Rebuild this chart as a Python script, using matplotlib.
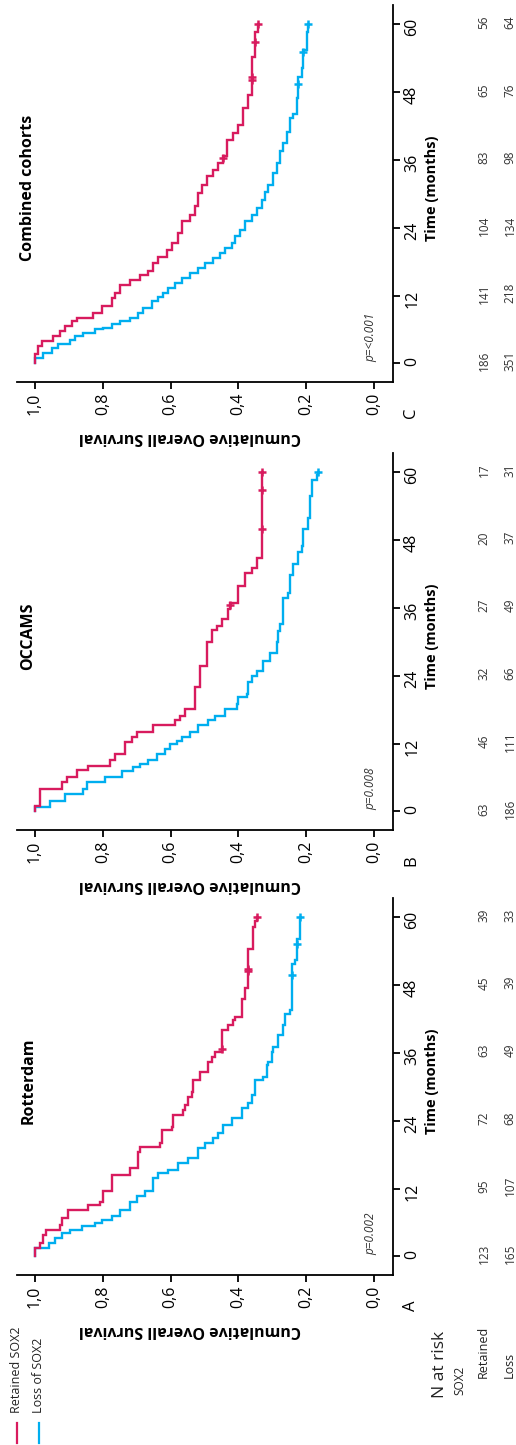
import numpy as np
import matplotlib
matplotlib.use('Agg')
import matplotlib.pyplot as plt
from matplotlib.lines import Line2D
import matplotlib.transforms as mtransforms
from matplotlib import font_manager

# pick a humanist sans that really has a bold face installed
FONT = 'DejaVu Sans'
for fam in ['Open Sans', 'Lato', 'Noto Sans', 'Liberation Sans']:
    path = font_manager.findfont(font_manager.FontProperties(family=fam, weight='bold'),
                                 fallback_to_default=False)
    if 'bold' in path.lower() or 'black' in path.lower():
        FONT = fam
        break
plt.rcParams['font.family'] = [FONT, 'DejaVu Sans']

RED = '#D81B5E'
BLUE = '#00AEEF'

# ---- data (time in months, cumulative survival) ----
panel_names = ['Rotterdam', 'OCCAMS', 'Combined cohorts']
panel_letters = ['A', 'B', 'C']
p_values = ['p=0.002', 'p=0.008', 'p=<0.001']
risk_times = [0, 12, 24, 36, 48, 60]

# Rotterdam
rot_ret_t = [0, 1.5, 2.4, 3.8, 4.7, 5.6, 6.8, 8.2, 9.1, 9.7, 11.5, 14.4, 15.6, 18.5, 19.4, 20.0,
             22.4, 22.9, 25.0, 25.9, 26.8, 28.2, 29.1, 31.2, 32.6, 34.4, 35.3, 36.2, 40.0, 40.9,
             41.8, 42.4, 45.6, 47.4, 54.4, 58.2, 59.3]
rot_ret_s = [1.0, 0.985, 0.975, 0.966, 0.926, 0.92, 0.902, 0.843, 0.808, 0.80, 0.774, 0.72,
             0.695, 0.69, 0.631, 0.626, 0.597, 0.592, 0.562, 0.557, 0.548, 0.538, 0.533, 0.513,
             0.489, 0.479, 0.469, 0.449, 0.43, 0.415, 0.41, 0.39, 0.381, 0.371, 0.356, 0.351, 0.346]
rot_ret_cens = [36.6, 50.4, 50.8, 60]
rot_loss_t = [0, 1.5, 2.4, 3.2, 4.1, 4.7, 5.3, 5.9, 6.5, 7.1, 8.2, 9.7, 10.6, 11.5, 13.8, 14.7,
              15.3, 16.5, 17.4, 19.1, 20.0, 20.9, 21.8, 23.2, 24.4, 26.2, 27.1, 28.5, 31.2, 31.8,
              33.8, 34.4, 36.2, 37.1, 39.1, 40.9, 42.9, 43.5, 51.8, 52.4, 56.2]
rot_loss_s = [1.0, 0.96, 0.94, 0.92, 0.897, 0.862, 0.823, 0.803, 0.774, 0.749, 0.72, 0.70,
              0.676, 0.651, 0.636, 0.607, 0.577, 0.548, 0.518, 0.499, 0.474, 0.459, 0.444, 0.42,
              0.39, 0.371, 0.361, 0.351, 0.326, 0.317, 0.312, 0.302, 0.297, 0.282, 0.267, 0.263,
              0.248, 0.243, 0.233, 0.228, 0.218]
rot_loss_cens = [49.7, 55.3, 60]
rot_risk_ret = [123, 95, 72, 63, 45, 39]
rot_risk_loss = [165, 107, 68, 49, 39, 33]

# OCCAMS
occ_ret_t = [0, 0.9, 4.0, 5.2, 6.1, 7.3, 8.1, 9.0, 10.2, 12.2, 13.1, 14.0, 15.2, 16.1, 16.9,
             18.1, 22.0, 25.8, 29.9, 32.0, 32.8, 34.0, 35.8, 36.9, 39.9, 42.2, 43.1, 44.9]
occ_ret_s = [1.0, 0.985, 0.921, 0.907, 0.877, 0.843, 0.779, 0.764, 0.735, 0.715, 0.70, 0.651,
             0.587, 0.572, 0.558, 0.528, 0.513, 0.494, 0.479, 0.464, 0.449, 0.43, 0.425, 0.40,
             0.381, 0.361, 0.346, 0.331]
occ_ret_cens = [36.5, 49.9, 56.8, 60]
occ_loss_t = [0, 0.8, 1.9, 3.1, 4.0, 5.2, 6.1, 7.2, 7.8, 8.4, 9.0, 10.2, 11.1, 11.9, 12.5, 13.1,
              14.0, 15.2, 16.1, 16.9, 18.1, 19.0, 20.2, 20.8, 22.8, 24.0, 24.9, 26.6, 28.1, 29.9,
              31.9, 33.1, 37.8, 38.7, 41.9, 43.7, 45.8, 46.9, 49.9, 51.9, 55.8, 58.7, 59.5]
occ_loss_s = [1.0, 0.956, 0.912, 0.857, 0.848, 0.794, 0.744, 0.71, 0.69, 0.666, 0.641, 0.617,
              0.602, 0.582, 0.567, 0.543, 0.518, 0.489, 0.469, 0.44, 0.405, 0.40, 0.376, 0.373,
              0.361, 0.346, 0.326, 0.307, 0.287, 0.282, 0.277, 0.267, 0.253, 0.248, 0.238, 0.223,
              0.213, 0.208, 0.194, 0.189, 0.184, 0.169, 0.164]
occ_loss_cens = [60]
occ_risk_ret = [63, 46, 32, 27, 20, 17]
occ_risk_loss = [186, 111, 66, 49, 37, 31]

# Combined cohorts
com_ret_t = [0, 1.6, 3.1, 3.9, 4.8, 5.7, 6.6, 7.5, 8.1, 8.9, 10.1, 11.6, 12.5, 13.9, 14.8, 15.7,
             16.3, 17.8, 18.9, 20.1, 21.3, 23.1, 25.1, 26.3, 27.8, 30.1, 31.6, 33.1, 34.2, 35.4,
             36.6, 39.5, 40.7, 42.2, 45.1, 47.5, 54.2, 58.6]
com_ret_s = [1.0, 0.99, 0.98, 0.946, 0.926, 0.912, 0.892, 0.877, 0.828, 0.803, 0.774, 0.764,
             0.75, 0.72, 0.69, 0.666, 0.651, 0.636, 0.612, 0.597, 0.577, 0.567, 0.543, 0.528,
             0.518, 0.508, 0.494, 0.474, 0.459, 0.444, 0.435, 0.415, 0.40, 0.385, 0.371, 0.361,
             0.351, 0.341]
com_ret_cens = [36.4, 50.2, 50.6, 56.9, 60]
com_loss_t = [0, 1.0, 1.9, 2.8, 3.4, 4.2, 4.8, 5.4, 6.0, 6.3, 6.9, 7.5, 8.1, 8.9, 9.8, 11.0, 11.8,
              12.5, 13.4, 14.2, 15.1, 16.0, 16.9, 17.8, 18.6, 19.5, 20.4, 21.3, 22.5, 23.6, 25.1,
              26.3, 27.5, 28.9, 30.4, 31.6, 33.6, 35.4, 37.5, 38.9, 41.0, 43.4, 44.2, 46.9, 50.7,
              52.2, 55.4, 58.6]
com_loss_s = [1.0, 0.975, 0.951, 0.931, 0.897, 0.882, 0.858, 0.823, 0.798, 0.774, 0.749, 0.72,
              0.695, 0.68, 0.656, 0.636, 0.621, 0.607, 0.587, 0.567, 0.543, 0.518, 0.499, 0.474,
              0.454, 0.44, 0.42, 0.41, 0.395, 0.381, 0.361, 0.346, 0.331, 0.322, 0.312, 0.297,
              0.287, 0.277, 0.267, 0.258, 0.248, 0.238, 0.228, 0.223, 0.213, 0.208, 0.199, 0.194]
com_loss_cens = [49.5, 55.1, 60]
com_risk_ret = [186, 141, 104, 83, 65, 56]
com_risk_loss = [351, 218, 134, 98, 76, 64]

panels = [
    (rot_ret_t, rot_ret_s, rot_ret_cens, rot_loss_t, rot_loss_s, rot_loss_cens, rot_risk_ret, rot_risk_loss),
    (occ_ret_t, occ_ret_s, occ_ret_cens, occ_loss_t, occ_loss_s, occ_loss_cens, occ_risk_ret, occ_risk_loss),
    (com_ret_t, com_ret_s, com_ret_cens, com_loss_t, com_loss_s, com_loss_cens, com_risk_ret, com_risk_loss),
]


def km_line(ax, t, s, cens, color):
    # survival on the horizontal axis, time on the vertical one (figure is turned)
    xs, ys = [s[0]], [t[0]]
    for i in range(1, len(t)):
        xs += [s[i - 1], s[i]]
        ys += [t[i], t[i]]
    xs.append(s[-1])
    ys.append(60)
    ax.plot(xs, ys, color=color, lw=1.7, solid_joinstyle='miter', clip_on=False)
    idx = np.searchsorted(t, cens, side='right') - 1
    ax.plot(np.array(s)[idx], cens, ls='none', marker='+', ms=6, mew=1.8, color=color, clip_on=False)


W, H = 516, 1445
fig = plt.figure(figsize=(W / 100, H / 100), dpi=100)

# top of each panel's time axis / bottom (survival axis) in pixels
panel_px = [(898, 1275), (453, 830), (5, 382)]

for k, (rt, rs, rc, lt, ls_, lc, rr, rl) in enumerate(panels):
    top, bot = panel_px[k]
    ax = fig.add_axes([17 / W, 1 - bot / H, 376 / W, (bot - top) / H])
    km_line(ax, lt, ls_, lc, BLUE)
    km_line(ax, rt, rs, rc, RED)

    ax.set_xlim(1.053, -0.056)
    ax.set_ylim(-3.3, 63.4)
    ax.spines['top'].set_visible(False)
    ax.spines['left'].set_visible(False)
    for sp in ('bottom', 'right'):
        ax.spines[sp].set_linewidth(1.3)
    ax.yaxis.tick_right()
    ax.set_xticks([1.0, 0.8, 0.6, 0.4, 0.2, 0.0])
    ax.set_xticklabels(['1,0', '0,8', '0,6', '0,4', '0,2', '0,0'])
    ax.set_yticks(risk_times)
    ax.tick_params(axis='both', direction='out', length=5, width=1.3, labelsize=11.5, pad=3)
    ax.tick_params(axis='x', labelrotation=90)
    ax.tick_params(axis='y', labelrotation=90)

    ax.set_xlabel('Cumulative Overall Survival', fontsize=11.5, fontweight='bold', rotation=180)
    ax.xaxis.set_label_coords(0.459, -0.125)
    ax.text(1.105, 0.515, 'Time (months)', transform=ax.transAxes, rotation=90, fontsize=10.5,
            fontweight='bold', ha='center', va='center')
    ax.text(0.03, 0.515, panel_names[k], transform=ax.transAxes, rotation=90, fontsize=11.5,
            fontweight='bold', ha='center', va='center')
    ax.text(0.941, 0.053, p_values[k], transform=ax.transAxes, rotation=90, fontsize=8.5,
            style='italic', color='#333333', ha='center', va='bottom')
    ax.text(1.048, -0.082, panel_letters[k], transform=ax.transAxes, rotation=90, fontsize=12,
            ha='center', va='center')

    trans = mtransforms.blended_transform_factory(ax.transAxes, ax.transData)
    for tm, a, b in zip(risk_times, rr, rl):
        ax.text(1.242, tm + 0.4, str(a), transform=trans, rotation=90, fontsize=8.5,
                color='#333333', ha='center', va='center', clip_on=False)
        ax.text(1.311, tm + 0.4, str(b), transform=trans, rotation=90, fontsize=8.5,
                color='#333333', ha='center', va='center', clip_on=False)

# number-at-risk header
def ftext(x, y, s, size):
    fig.text(x / W, 1 - y / H, s, rotation=90, rotation_mode='anchor', ha='left', va='center',
             fontsize=size, color='#222222')

ftext(440, 1398, 'N at risk', 12.5)
ftext(460, 1395, 'SOX2', 8.5)
ftext(483, 1378, 'Retained', 9)
ftext(509, 1378, 'Loss', 9)

# legend
for x, c, lab in [(17, RED, 'Retained SOX2'), (39, BLUE, 'Loss of SOX2')]:
    fig.add_artist(Line2D([x / W, x / W], [1 - 1423 / H, 1 - 1443 / H], color=c, lw=1.6))
    ftext(x, 1413, lab, 9)

fig.savefig('out.png', dpi=100)
